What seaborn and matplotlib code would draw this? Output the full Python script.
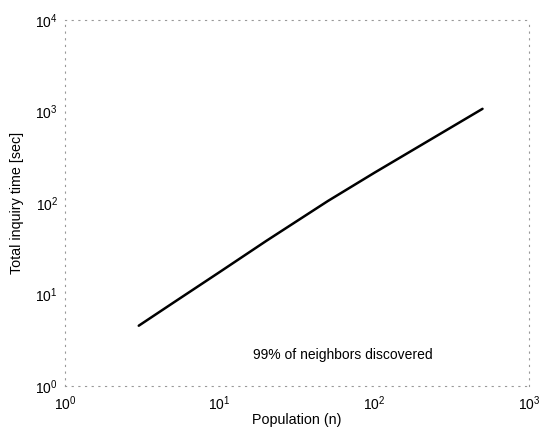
import pandas as pd
import seaborn as sns
import matplotlib.pyplot as plt

# values (log-log curve)
population = [3, 5, 10, 20, 50, 100, 200, 500]
inquiry_time = [4.56, 8.1, 17.6, 38.5, 105, 214, 428, 1070]

df = pd.DataFrame({'population': population, 'time': inquiry_time})

sns.set_style('white')
plt.rcParams['font.family'] = ['Liberation Sans', 'DejaVu Sans']
plt.rcParams['mathtext.fontset'] = 'custom'
plt.rcParams['mathtext.rm'] = 'Liberation Sans'
plt.rcParams['text.color'] = 'black'
plt.rcParams['axes.labelcolor'] = 'black'
plt.rcParams['xtick.color'] = 'black'
plt.rcParams['ytick.color'] = 'black'

fig = plt.figure(figsize=(5.41, 4.30), dpi=100)
ax = fig.add_axes([0.120, 0.1023, 0.858, 0.8512])

sns.lineplot(data=df, x='population', y='time', color='black', linewidth=1.8, ax=ax)

ax.set_xscale('log')
ax.set_yscale('log')
ax.set_xlim(1, 1000)
ax.set_ylim(1, 1e4)
ax.minorticks_off()
ax.tick_params(length=0, labelsize=10)
ax.tick_params(axis='x', pad=6)
ax.tick_params(axis='y', pad=5)
ax.set_xticks([1, 10, 100, 1000])
ax.set_yticks([1, 10, 100, 1000, 10000])

# dotted frame like the original
for side, sp in ax.spines.items():
    sp.set_visible(True)
    sp.set_color('#999999')
    sp.set_linewidth(0.8)
    sp.set_linestyle((0, (1, 5)))

ax.set_xlabel('Population (n)', fontsize=10.3, labelpad=0)
ax.set_ylabel('Total inquiry time [sec]', fontsize=10.3, labelpad=8)

ax.text(16.4, 2.18, '99% of neighbors discovered', fontsize=10, ha='left', va='center')

plt.savefig('out.png', dpi=100)
